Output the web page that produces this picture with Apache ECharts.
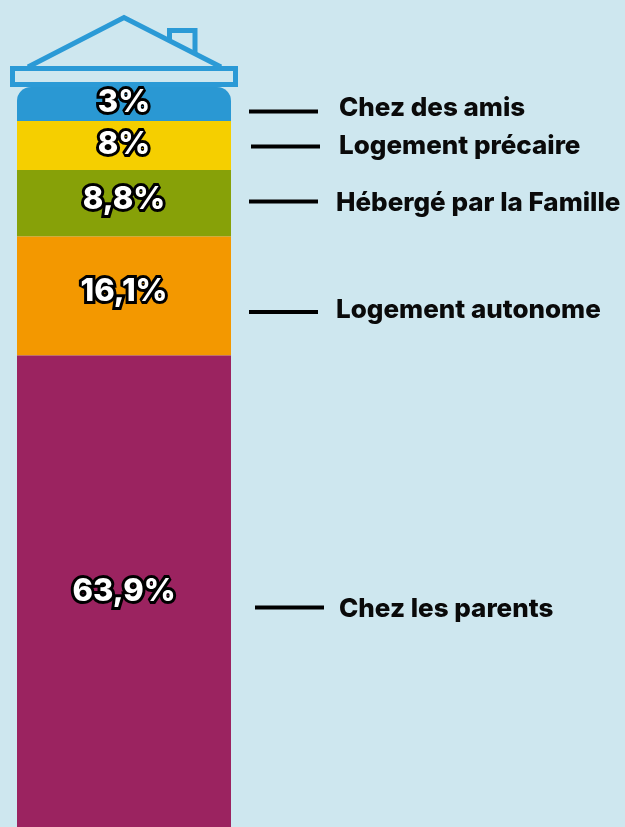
<!DOCTYPE html>
<html><head><meta charset="utf-8">
<style>html,body{margin:0;padding:0;background:#CEE7EF}#c{width:625px;height:827px}</style>
<script src="https://cdn.jsdelivr.net/npm/echarts@6/dist/echarts.min.js"></script>
</head><body><div id="c"></div>
<script>
// Categories, top to bottom
const categories = ['Chez des amis','Logement précaire','Hébergé par la Famille','Logement autonome','Chez les parents'];
// Printed percentages
const valueLabels = ['3%','8%','8,8%','16,1%','63,9%'];
// Drawn band lengths (share of column height; the picture's bands are not strictly proportional to the printed figures)
const drawnLengths = [4.6,6.6,9.0,16.1,63.7];
const colors = ['#2A98D3','#F5CF00','#87A108','#F39800','#9B2360'];

const labelShift = [-1.5,-1,-3,-4.5,0];
const leaderX = [[249,318],[251,320],[249,318],[249,318],[255,324]];
const leaderY = [111.5,146.5,201.5,312,607.5];
const textX = [339,339,336,336,339];
const textY = [108.5,146.5,203.5,310,609.5];
const BLUE = '#2B9AD6';

const chart = echarts.init(document.getElementById('c'));
const graphic = [
  {type:'polyline',shape:{points:[[28,67],[124,17.5],[221,67]]},style:{stroke:BLUE,lineWidth:5,fill:null}},
  {type:'polyline',shape:{points:[[169.5,40],[169.5,30.5],[195,30.5],[195,54]]},style:{stroke:BLUE,lineWidth:5,fill:null}},
  {type:'rect',shape:{x:12.5,y:68.5,width:223,height:16},style:{stroke:BLUE,lineWidth:5,fill:'#CEE7EF'}}
];
categories.forEach((name,i)=>{
  graphic.push({type:'line',shape:{x1:leaderX[i][0],y1:leaderY[i],x2:leaderX[i][1],y2:leaderY[i]},style:{stroke:'#000',lineWidth:4}});
  graphic.push({type:'text',x:textX[i],y:textY[i],style:{text:name,fill:'#0A0A0A',font:'800 26px Inter',textVerticalAlign:'middle',textAlign:'left'}});
});
chart.setOption({
  animation:false,
  backgroundColor:'#CEE7EF',
  grid:{left:17,top:87,width:214,height:740},
  xAxis:{type:'category',data:['Logement'],show:false},
  yAxis:{type:'value',min:0,max:100,inverse:true,show:false},
  graphic,
  series:categories.map((name,i)=>({
    name,type:'bar',stack:'total',barWidth:'100%',
    data:[drawnLengths[i]],
    itemStyle:{color:colors[i],borderRadius:i===0?[14,14,0,0]:0},
    label:{show:true,position:'inside',offset:[0,labelShift[i]],formatter:()=>valueLabels[i],
      color:'#fff',fontFamily:'Inter',fontWeight:800,fontSize:31,textBorderColor:'#000',textBorderWidth:6}
  }))
});
</script></body></html>
